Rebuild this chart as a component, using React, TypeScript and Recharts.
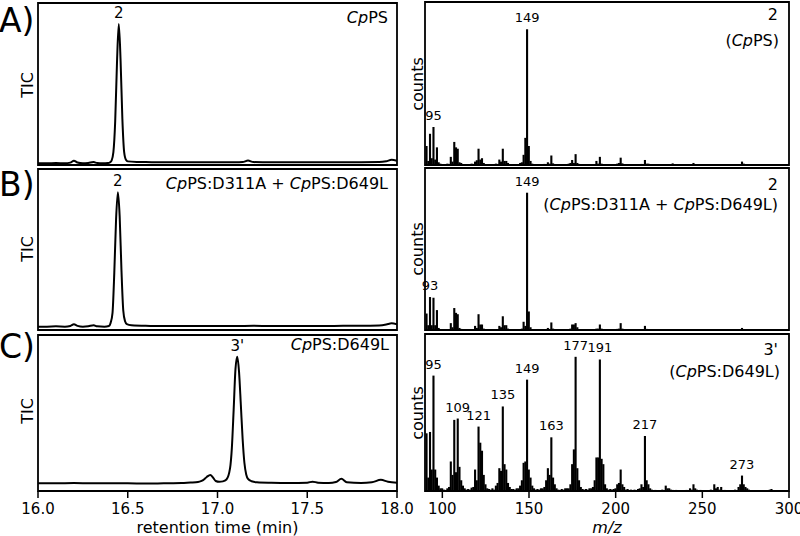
import React from "react";
import { LineChart, Line, BarChart, Bar, XAxis, YAxis, ReferenceArea, LabelList } from "recharts";

// total ion chromatograms: [retention time (min), relative TIC]
const ticA: [number, number][] = [
  [16.0, 0], [16.05, 0], [16.1, 0.2], [16.15, 0], [16.18, 0.5], [16.2, 1.9], [16.22, 0.6], [16.25, 0],
  [16.28, 0.3], [16.31, 0.9], [16.33, 0.2], [16.36, 0], [16.39, 0.2], [16.4, 0.6], [16.41, 2], [16.42, 8],
  [16.43, 30], [16.44, 72], [16.45, 100], [16.46, 74], [16.47, 32], [16.48, 8], [16.49, 2.5], [16.5, 1.4],
  [16.55, 1.0], [16.6, 0.9], [16.7, 0.8], [16.8, 0.8], [16.9, 0.8], [17.0, 0.7], [17.1, 0.7], [17.14, 0.9],
  [17.17, 2.0], [17.2, 0.9], [17.3, 0.7], [17.4, 0.7], [17.5, 0.7], [17.6, 0.7], [17.7, 0.7], [17.8, 0.8],
  [17.9, 0.9], [17.94, 1.5], [17.97, 2.5], [18.0, 1.8],
];
const ticB: [number, number][] = [
  [16.0, 0], [16.05, 0], [16.1, 0.2], [16.15, 0], [16.18, 0.5], [16.2, 1.7], [16.22, 0.6], [16.25, 0],
  [16.28, 0.3], [16.31, 1.0], [16.33, 0.2], [16.37, 0], [16.395, 0.5], [16.405, 3], [16.415, 10], [16.425, 40],
  [16.435, 80], [16.445, 100], [16.455, 82], [16.465, 42], [16.475, 12], [16.485, 4], [16.495, 1.8], [16.52, 1.0],
  [16.6, 0.6], [16.7, 0.5], [16.8, 0.5], [16.9, 0.5], [17.0, 0.5], [17.1, 0.5], [17.2, 0.6], [17.3, 0.5],
  [17.4, 0.5], [17.5, 0.5], [17.6, 0.5], [17.7, 0.6], [17.8, 0.6], [17.9, 0.9], [17.94, 1.6], [17.97, 2.5],
  [18.0, 1.8],
];
const ticC: [number, number][] = [
  [16.0, 0], [16.1, 0], [16.2, 0.2], [16.3, 0], [16.4, 0], [16.5, 0], [16.6, -0.2], [16.7, 0], [16.8, 0.2],
  [16.85, 0.6], [16.88, 0.8], [16.9, 1.3], [16.92, 2.5], [16.94, 5], [16.96, 6.6], [16.975, 4.5], [16.99, 1.8],
  [17.01, 1.2], [17.03, 1.5], [17.05, 3], [17.07, 12], [17.08, 28], [17.09, 58], [17.1, 90], [17.11, 100],
  [17.12, 88], [17.13, 62], [17.14, 35], [17.15, 16], [17.16, 7], [17.17, 3.5], [17.19, 1.6], [17.22, 0.8],
  [17.3, 0.4], [17.4, 0.2], [17.5, 0.5], [17.53, 1.3], [17.56, 0.5], [17.62, 0.3], [17.66, 1.0], [17.69, 3.5],
  [17.72, 0.8], [17.8, 0.3], [17.86, 0.8], [17.91, 2.7], [17.95, 1.2], [18.0, 0.5],
];
const peaksA: [number, string][] = [[16.45, "2"]];
const peaksB: [number, string][] = [[16.445, "2"]];
const peaksC: [number, string][] = [[17.11, "3'"]];

// mass spectra: [m/z, relative counts]
const specA: [number, number][] = [
  [91, 14], [92, 3], [93, 23], [94, 5], [95, 28], [96, 4], [97, 13], [98, 2], [99, 1], [101, 0.6], [103, 1],
  [104, 0.8], [105, 6], [106, 2.5], [107, 17], [108, 13], [109, 12], [110, 2], [111, 1.5], [112, 0.6], [115, 0.6],
  [117, 1], [118, 0.8], [119, 2.5], [120, 3.5], [121, 12], [122, 4], [123, 5], [124, 1.5], [125, 0.6], [129, 0.6],
  [131, 1], [132, 0.8], [133, 4], [134, 2.5], [135, 12], [136, 3], [137, 3], [138, 1.5], [139, 0.6], [143, 0.6],
  [145, 1.5], [146, 2], [147, 7.5], [148, 20], [149, 100], [150, 14], [151, 3], [152, 1], [157, 0.5], [159, 0.8],
  [161, 2], [162, 1], [163, 7], [164, 1.2], [165, 0.6], [171, 0.5], [173, 1], [174, 1.5], [175, 3.7], [176, 1.5],
  [177, 8], [178, 1.5], [179, 0.8], [187, 0.6], [189, 3], [190, 1], [191, 6], [192, 1], [193, 0.6], [201, 1],
  [202, 1.5], [203, 5.4], [204, 1.2], [205, 0.6], [215, 0.8], [217, 3.7], [218, 1], [219, 1], [229, 0.6],
  [231, 0.5], [233, 1.2], [245, 1.5], [246, 0.5], [257, 0.5], [259, 0.6], [261, 0.5], [271, 0.5], [273, 2.5],
  [274, 1], [275, 0.5], [289, 0.5], [290, 0.7],
];
const specB: [number, number][] = [
  [91, 12], [92, 3.5], [93, 24], [94, 3.5], [95, 23.5], [96, 3.5], [97, 14.5], [98, 1.5], [99, 0.6], [103, 0.6],
  [104, 0.6], [105, 5], [106, 2], [107, 16], [108, 12.5], [109, 11.5], [110, 1.5], [111, 0.8], [117, 0.5],
  [118, 0.5], [119, 3], [120, 1.5], [121, 11.5], [122, 4], [123, 4], [124, 1], [131, 0.5], [132, 0.5], [133, 3],
  [134, 2], [135, 10], [136, 3.5], [137, 3.5], [138, 1], [145, 0.6], [146, 1], [147, 6], [148, 3], [149, 100],
  [150, 13.5], [151, 2], [152, 0.6], [159, 0.5], [161, 1.5], [162, 0.8], [163, 5.5], [164, 1], [173, 0.6],
  [174, 1], [175, 4], [176, 4], [177, 5], [178, 2], [179, 0.6], [187, 0.5], [189, 1], [190, 1], [191, 4],
  [192, 1], [201, 0.8], [202, 1], [203, 5], [204, 1], [215, 0.5], [217, 3], [218, 0.8], [219, 0.5], [233, 0.5],
  [245, 0.7], [259, 0.4], [273, 1.5], [274, 0.7], [289, 0.4],
];
const specC: [number, number][] = [
  [91, 43], [92, 10], [93, 44], [94, 16], [95, 86], [96, 16], [97, 10], [98, 4], [99, 2], [100, 2], [101, 1],
  [102, 0.8], [103, 2], [104, 3], [105, 22], [106, 12], [107, 53], [108, 14], [109, 54], [110, 18], [111, 8],
  [112, 4], [113, 2], [114, 1], [115, 1.5], [116, 1], [117, 2.5], [118, 3], [119, 16], [120, 8], [121, 48],
  [122, 36], [123, 30], [124, 12], [125, 5], [126, 2], [127, 1.5], [128, 1], [129, 2], [130, 1], [131, 4],
  [132, 6], [133, 17], [134, 15], [135, 63], [136, 20], [137, 16], [138, 6], [139, 3], [140, 1.5], [141, 1.5],
  [142, 1], [143, 2], [144, 2], [145, 4], [146, 8], [147, 21], [148, 22], [149, 83], [150, 16], [151, 10],
  [152, 4], [153, 2], [154, 1], [155, 1.5], [156, 1], [157, 2], [158, 2], [159, 3], [160, 8], [161, 17],
  [162, 12], [163, 40], [164, 10], [165, 5], [166, 2], [167, 1], [168, 0.8], [169, 1.5], [170, 1], [171, 2],
  [172, 2], [173, 2], [174, 5], [175, 20], [176, 31], [177, 100], [178, 17], [179, 8], [180, 3], [181, 1.5],
  [182, 1], [183, 1.5], [184, 1], [185, 2], [186, 2], [187, 3], [188, 8], [189, 25], [190, 25], [191, 98],
  [192, 24], [193, 20], [194, 5], [195, 2], [196, 1], [197, 1.5], [198, 1], [199, 1.5], [200, 2], [201, 5],
  [202, 6], [203, 16], [204, 5], [205, 3], [206, 1], [207, 1.5], [208, 0.8], [209, 1], [211, 1], [213, 1.5],
  [214, 2], [215, 5], [216, 3], [217, 41], [218, 8], [219, 5], [220, 2], [221, 1], [223, 0.8], [227, 1],
  [229, 4], [230, 2], [231, 2], [232, 1], [233, 0.8], [235, 0.8], [241, 0.8], [243, 2], [244, 1], [245, 5],
  [246, 2], [247, 1], [249, 0.8], [255, 1], [257, 5], [258, 2], [259, 3], [260, 1], [261, 3], [263, 0.8],
  [269, 1], [271, 3], [272, 5], [273, 11.5], [274, 5], [275, 3], [276, 2], [277, 1], [285, 0.5], [289, 1],
  [290, 1.5],
];
const labelsA = [95, 149];
const labelsB = [93, 149];
const labelsC = [95, 109, 121, 135, 149, 163, 177, 191, 217, 273];

const timeTicks = [16, 16.5, 17, 17.5, 18];
const mzTicks = [100, 150, 200, 250, 300];

const AXIS_H = 45;
const STICK_W = 2.1;

function PeakLabel(props: any) {
  const { x, y, value } = props;
  if (!value) return null;
  return (
    <text x={Number(x)} y={Number(y) - 6} textAnchor="middle" fontSize={15} fill="#000">
      {value}
    </text>
  );
}

function MzLabel(props: any) {
  const { x, y, width, value } = props;
  if (!value) return null;
  return (
    <text x={Number(x) + Number(width) / 2} y={Number(y) - 7} textAnchor="middle" fontSize={13} fill="#000">
      {value}
    </text>
  );
}

// a stick centred on the bar slot the library computed
function Stick(props: any) {
  const { x, y, width, height } = props;
  if (!height) return null;
  const cx = Number(x) + Number(width) / 2;
  return <rect x={cx - STICK_W / 2} y={Number(y)} width={STICK_W} height={Number(height)} fill="#000" />;
}

function Chromatogram({ data, peaks, top, plotH, domain, showAxis }: {
  data: [number, number][];
  peaks: [number, string][];
  top: number;
  plotH: number;
  domain: [number, number];
  showAxis?: boolean;
}) {
  const rows = data.map(([t, v]) => {
    const p = peaks.find((pk) => pk[0] === t);
    return { t, v, label: p ? p[1] : undefined };
  });
  const height = showAxis ? 2 + plotH + AXIS_H : plotH + 4;
  return (
    <div style={{ position: "absolute", left: 20, top: top - 2 }}>
      <LineChart width={18 + 359 + 18} height={height} data={rows}
        margin={{ top: 2, right: 18, bottom: showAxis ? 0 : 2, left: 18 }}>
        <XAxis type="number" dataKey="t" domain={[16, 18]} allowDataOverflow ticks={timeTicks} interval={0}
          tickFormatter={(v: number) => v.toFixed(1)} hide={!showAxis} height={AXIS_H}
          axisLine={{ stroke: "#000", strokeWidth: 1.8 }} tickLine={{ stroke: "#000", strokeWidth: 1.5 }}
          tickSize={7} tickMargin={5} tick={{ fill: "#000", fontSize: 15 }}
          label={{ value: "retention time (min)", position: "insideBottom", offset: 3, fill: "#000", fontSize: 16 }} />
        <YAxis type="number" domain={domain} allowDataOverflow hide />
        <ReferenceArea x1={16} x2={18} y1={domain[0]} y2={domain[1]} fill="none" fillOpacity={0}
          stroke="#000" strokeWidth={1.8} ifOverflow="visible" />
        <Line dataKey="v" type="monotone" stroke="#000" strokeWidth={2} dot={false} isAnimationActive={false}>
          <LabelList dataKey="label" content={PeakLabel} />
        </Line>
      </LineChart>
    </div>
  );
}

function Spectrum({ data, labels, top, plotH, ymax, showAxis }: {
  data: [number, number][];
  labels: number[];
  top: number;
  plotH: number;
  ymax: number;
  showAxis?: boolean;
}) {
  const rows = data.map(([mz, c]) => ({ mz, c, label: labels.includes(mz) ? String(mz) : undefined }));
  const height = showAxis ? 2 + plotH + AXIS_H : plotH + 4;
  return (
    <div style={{ position: "absolute", left: 407, top: top - 2 }}>
      <BarChart width={18 + 364 + 18} height={height} data={rows}
        margin={{ top: 2, right: 18, bottom: showAxis ? 0 : 2, left: 18 }}>
        <XAxis type="number" dataKey="mz" domain={[90, 300]} allowDataOverflow ticks={mzTicks} interval={0}
          hide={!showAxis} height={AXIS_H}
          axisLine={{ stroke: "#000", strokeWidth: 1.8 }} tickLine={{ stroke: "#000", strokeWidth: 1.5 }}
          tickSize={7} tickMargin={5} tick={{ fill: "#000", fontSize: 15 }}
          label={{ value: "m/z", position: "insideBottom", offset: 3, fill: "#000", fontSize: 16, fontStyle: "italic" }} />
        <YAxis type="number" domain={[0, ymax]} allowDataOverflow hide />
        <ReferenceArea x1={90} x2={300} y1={0} y2={ymax} fill="none" fillOpacity={0}
          stroke="#000" strokeWidth={1.8} ifOverflow="visible" />
        <Bar dataKey="c" fill="#000" shape={Stick} isAnimationActive={false}>
          <LabelList dataKey="label" content={MzLabel} />
        </Bar>
      </BarChart>
    </div>
  );
}

function Cp() {
  return <tspan fontStyle="italic">Cp</tspan>;
}

export default function App() {
  return (
    <div style={{
      position: "absolute", left: 0, top: 0, width: 800, height: 536, background: "#fff",
      fontFamily: '"DejaVu Sans", sans-serif', overflow: "hidden",
    }}>
      <Chromatogram data={ticA} peaks={peaksA} top={3} plotH={162} domain={[-1.2, 115.1]} />
      <Chromatogram data={ticB} peaks={peaksB} top={169} plotH={161} domain={[-2.5, 117.3]} />
      <Chromatogram data={ticC} peaks={peaksC} top={335} plotH={156} domain={[-6.1, 117.1]} showAxis />

      <Spectrum data={specA} labels={labelsA} top={2} plotH={163} ymax={120.1} />
      <Spectrum data={specB} labels={labelsB} top={168} plotH={162} ymax={118} />
      <Spectrum data={specC} labels={labelsC} top={334} plotH={157} ymax={117} showAxis />

      <svg width={800} height={536} style={{ position: "absolute", left: 0, top: 0, pointerEvents: "none" }}>
        <g fill="#000" fontSize={33}>
          <text x={-1} y={32}>A)</text>
          <text x={-1} y={196}>B)</text>
          <text x={-1} y={358}>C)</text>
        </g>
        <g fill="#000" fontSize={16} textAnchor="middle">
          <text transform="translate(33,85) rotate(-90)">TIC</text>
          <text transform="translate(33,249) rotate(-90)">TIC</text>
          <text transform="translate(33,411) rotate(-90)">TIC</text>
          <text transform="translate(423,84) rotate(-90)">counts</text>
          <text transform="translate(423,249) rotate(-90)">counts</text>
          <text transform="translate(423,413) rotate(-90)">counts</text>
        </g>
        <g fill="#000" fontSize={16} textAnchor="end">
          <text x={388} y={23}><Cp />PS</text>
          <text x={388} y={189}><Cp />{"PS:D311A + "}<Cp />{"PS:D649L"}</text>
          <text x={389} y={350}><Cp />PS:D649L</text>

          <text x={778} y={19.5}>2</text>
          <text x={779} y={45.5}>(<Cp />PS)</text>
          <text x={778} y={190}>2</text>
          <text x={778} y={210}>(<Cp />{"PS:D311A + "}<Cp />{"PS:D649L)"}</text>
          <text x={778} y={355}>3'</text>
          <text x={780} y={377}>(<Cp />PS:D649L)</text>
        </g>
      </svg>
    </div>
  );
}
